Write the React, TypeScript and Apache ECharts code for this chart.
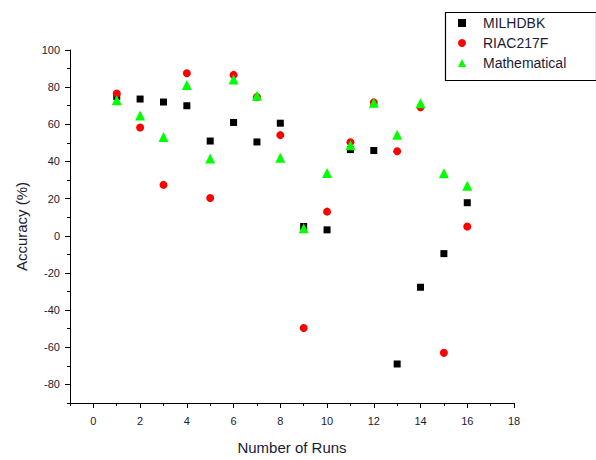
import React, { useEffect, useRef } from "react";
import * as echarts from "echarts";

const runs = [1, 2, 3, 4, 5, 6, 7, 8, 9, 10, 11, 12, 13, 14, 15, 16];
const milhdbk = [75, 73.6, 72, 70, 51, 61, 50.5, 60.6, 5, 3.2, 46.4, 45.9, -69, -27.7, -9.6, 17.8];
const riac217f = [76.6, 58.3, 27.4, 87.5, 20.3, 86.6, 74.7, 54.2, -49.6, 13, 50.3, 71.8, 45.5, 69.2, -63, 5];
const mathematical = [73, 64.7, 53.2, 81.2, 41.6, 84.1, 75.4, 42, 4.1, 33.8, 48.7, 71.6, 54.4, 71.3, 33.6, 27];

const xMajor = [0, 2, 4, 6, 8, 10, 12, 14, 16, 18];
const xMinor = [-1, 1, 3, 5, 7, 9, 11, 13, 15, 17];
const yMajor = [-80, -60, -40, -20, 0, 20, 40, 60, 80, 100];
const yMinor = [-90, -70, -50, -30, -10, 10, 30, 50, 70, 90];

const FONT = "Liberation Sans, Arial, sans-serif";
const TXT = "#1a1a33";

export default function App() {
  const ref = useRef<HTMLDivElement>(null);
  useEffect(() => {
    if (!ref.current) return;
    const chart = echarts.init(ref.current, null, { renderer: "svg" });
    const pair = (ys: number[]) => runs.map((x, i) => [x, ys[i]]);
    const lineStyle = { color: "#000", width: 1 };
    chart.setOption({
      animation: false,
      backgroundColor: "#fff",
      textStyle: { fontFamily: FONT },
      grid: { left: 70, right: 82, top: 50, bottom: 53, containLabel: false },
      graphic: [
        {
          type: "rect",
          left: 443,
          top: 10,
          shape: { x: 0, y: 0, width: 151, height: 68 },
          style: { fill: "none", stroke: "#000", lineWidth: 1.2 },
          z: 10,
        },
      ],
      legend: {
        orient: "vertical",
        left: 443,
        top: 10,
        padding: [5, 6, 7, 15],
        itemWidth: 8,
        itemHeight: 8,
        itemGap: 4,
        textStyle: { fontFamily: FONT, fontSize: 14, color: TXT, lineHeight: 16, padding: [0, 0, 0, 12] },
        data: [
          { name: "MILHDBK", icon: "rect" },
          { name: "RIAC217F", icon: "circle" },
          { name: "Mathematical", icon: "triangle" },
        ],
      },
      xAxis: [
        {
          type: "value",
          min: -1,
          max: 18,
          name: "Number of Runs",
          nameLocation: "middle",
          nameGap: 37,
          nameTextStyle: { fontFamily: FONT, fontSize: 15, color: TXT },
          splitLine: { show: false },
          axisLine: { show: true, lineStyle, onZero: false },
          axisTick: { show: true, inside: false, length: 5, lineStyle, customValues: xMajor },
          axisLabel: { customValues: xMajor, margin: 12, fontSize: 11, color: TXT, fontFamily: FONT },
        },
        {
          type: "value",
          min: -1,
          max: 18,
          position: "bottom",
          splitLine: { show: false },
          axisLine: { show: false, onZero: false },
          axisTick: { show: true, inside: false, length: 3, lineStyle, customValues: xMinor },
          axisLabel: { show: false },
        },
      ],
      yAxis: [
        {
          type: "value",
          min: -90,
          max: 100,
          name: "Accuracy (%)",
          nameLocation: "middle",
          nameGap: 41,
          nameTextStyle: { fontFamily: FONT, fontSize: 15, color: TXT },
          splitLine: { show: false },
          axisLine: { show: true, lineStyle, onZero: false },
          axisTick: { show: true, inside: false, length: 5, lineStyle, customValues: yMajor },
          axisLabel: { customValues: yMajor, margin: 10, fontSize: 11, color: TXT, fontFamily: FONT },
        },
        {
          type: "value",
          min: -90,
          max: 100,
          position: "left",
          splitLine: { show: false },
          axisLine: { show: false, onZero: false },
          axisTick: { show: true, inside: false, length: 3, lineStyle, customValues: yMinor },
          axisLabel: { show: false },
        },
      ],
      series: [
        {
          name: "MILHDBK",
          type: "scatter",
          symbol: "rect",
          symbolSize: 7,
          itemStyle: { color: "#000", opacity: 1 },
          data: pair(milhdbk),
        },
        {
          name: "RIAC217F",
          type: "scatter",
          symbol: "circle",
          symbolSize: 8,
          itemStyle: { color: "#ff0000", opacity: 1 },
          data: pair(riac217f),
        },
        {
          name: "Mathematical",
          type: "scatter",
          symbol: "triangle",
          symbolSize: 10,
          itemStyle: { color: "#00ff00", opacity: 1 },
          data: pair(mathematical),
        },
      ],
    });
    return () => chart.dispose();
  }, []);
  return <div ref={ref} style={{ width: 596, height: 460, position: "absolute", left: 0, top: 0 }} />;
}
